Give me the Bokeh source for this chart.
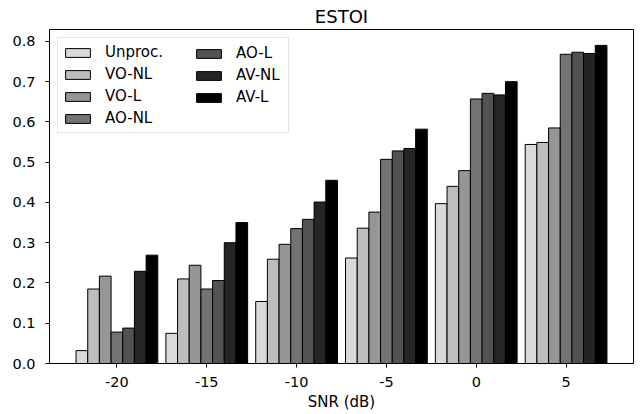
from bokeh.plotting import figure
from bokeh.models import Range1d, FixedTicker, Legend, LegendItem, PrintfTickFormatter
from bokeh.embed import file_html
from bokeh.resources import INLINE
import numpy as np

snr_labels = ["-20", "-15", "-10", "-5", "0", "5"]
methods = ["Unproc.", "VO-NL", "VO-L", "AO-NL", "AO-L", "AV-NL", "AV-L"]
unproc = [0.032, 0.075, 0.154, 0.262, 0.397, 0.544]
vo_nl = [0.185, 0.210, 0.259, 0.336, 0.440, 0.549]
vo_l = [0.217, 0.244, 0.296, 0.376, 0.479, 0.585]
ao_nl = [0.078, 0.185, 0.335, 0.507, 0.657, 0.768]
ao_l = [0.088, 0.206, 0.358, 0.528, 0.671, 0.773]
av_nl = [0.229, 0.300, 0.401, 0.534, 0.667, 0.770]
av_l = [0.269, 0.350, 0.455, 0.582, 0.700, 0.790]
colors = ["#d9d9d9", "#bdbdbd", "#969696", "#737373", "#525252", "#252525", "#000000"]

series = [unproc, vo_nl, vo_l, ao_nl, ao_l, av_nl, av_l]
bar_w = 0.13
n = len(methods)
idx = np.arange(len(snr_labels))
lo = -n / 2 * bar_w
hi = len(snr_labels) - 1 + n / 2 * bar_w
pad = (hi - lo) * 0.05
ymax = max(max(s) for s in series) * 1.05

FONT = "DejaVu Sans"

p = figure(width=644, height=414, output_backend="svg", toolbar_location=None,
           x_range=Range1d(lo - pad, hi + pad), y_range=Range1d(0, ymax),
           title="ESTOI", min_border_left=49, min_border_right=11,
           min_border_top=29, min_border_bottom=51)

p.title.align = "center"
p.title.text_font = FONT
p.title.text_font_size = "18px"
p.title.text_font_style = "normal"
p.title.text_color = "black"
p.title.standoff = 6

renderers = []
for j, (name, vals, col) in enumerate(zip(methods, series, colors)):
    xs = idx + (j - (n - 1) / 2) * bar_w
    r = p.vbar(x=xs, top=vals, width=bar_w, bottom=0, fill_color=col,
               line_color="black", line_width=1)
    renderers.append((name, r))

p.xgrid.visible = False
p.ygrid.visible = False
p.outline_line_color = "black"
p.outline_line_width = 1

p.xaxis.ticker = FixedTicker(ticks=list(idx))
p.xaxis.major_label_overrides = {int(i): lab for i, lab in zip(idx, snr_labels)}
p.xaxis.axis_label = "SNR (dB)"
p.yaxis.ticker = FixedTicker(ticks=[i / 10 for i in range(9)])
p.yaxis.formatter = PrintfTickFormatter(format="%.1f")

for ax in (p.xaxis, p.yaxis):
    ax.minor_tick_line_color = None
    ax.major_tick_in = 0
    ax.major_tick_out = 4
    ax.major_tick_line_color = "black"
    ax.axis_line_color = "black"
    ax.major_label_text_font = FONT
    ax.major_label_text_font_size = "14.5px"
    ax.major_label_text_color = "black"
    ax.axis_label_text_font = FONT
    ax.axis_label_text_font_size = "15px"
    ax.axis_label_text_font_style = "normal"
    ax.axis_label_text_color = "black"
p.xaxis.major_label_standoff = 9
p.xaxis.axis_label_standoff = 3
p.yaxis.major_label_standoff = 10

common = dict(glyph_width=31, glyph_height=11, label_height=20, spacing=2,
              padding=4, label_standoff=12, label_text_font=FONT,
              label_text_font_size="15px", label_text_color="black")

legA = Legend(items=[LegendItem(label=nm, renderers=[r]) for nm, r in renderers[:4]],
              location="top_left", margin=8, label_width=179,
              border_line_color="#cccccc", border_line_width=1,
              background_fill_color="white", background_fill_alpha=0.8, **common)
legB = Legend(items=[LegendItem(label=nm, renderers=[r]) for nm, r in renderers[4:]],
              location=(144, 256), margin=0,
              border_line_color=None, background_fill_alpha=0.0, **common)
p.add_layout(legA, "center")
p.add_layout(legB, "center")

open("out.html", "w").write(file_html(p, INLINE))
